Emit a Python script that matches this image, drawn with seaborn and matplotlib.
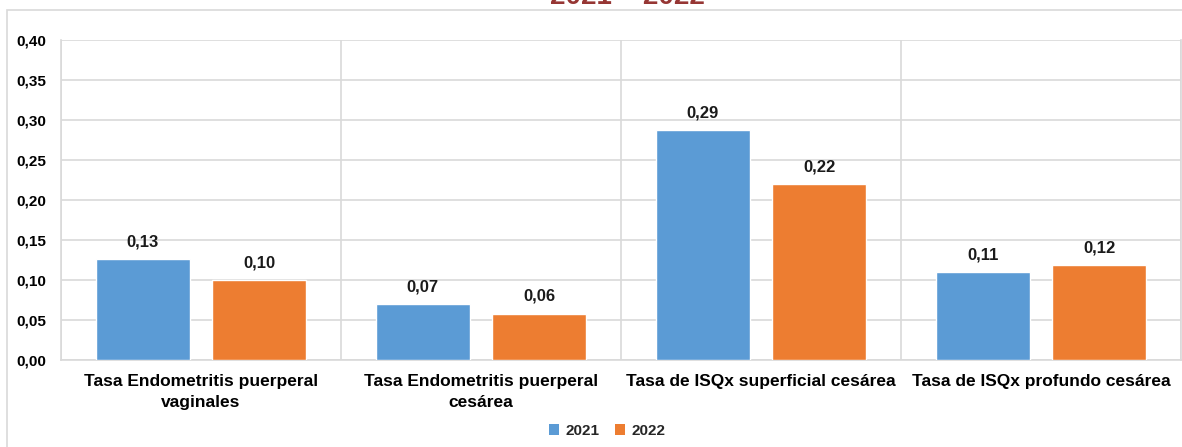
import matplotlib
matplotlib.use("Agg")
import matplotlib.pyplot as plt
from matplotlib.patches import Rectangle, Patch
import seaborn as sns
import pandas as pd

# Data
categorias = [
    "Tasa Endometritis puerperal\nvaginales",
    "Tasa Endometritis puerperal\ncesárea",
    "Tasa de ISQx superficial cesárea",
    "Tasa de ISQx profundo cesárea",
]
anios = ["2021", "2022"]
tasa_2021 = [0.126, 0.070, 0.287, 0.110]
tasa_2022 = [0.100, 0.058, 0.220, 0.119]
y_ticks = [0.00, 0.05, 0.10, 0.15, 0.20, 0.25, 0.30, 0.35, 0.40]
titulo = "2021 – 2022"

colores = ["#5B9BD5", "#ED7D31"]
gris = "#D9D9D9"

df = pd.DataFrame({
    "categoria": categorias * 2,
    "anio": [anios[0]] * 4 + [anios[1]] * 4,
    "tasa": tasa_2021 + tasa_2022,
})

sns.set_theme(style="white")
plt.rcParams["font.family"] = ["Liberation Sans", "DejaVu Sans"]

W, H = 1182, 447
fig = plt.figure(figsize=(W / 100, H / 100), dpi=100)
ax = fig.add_axes([61 / W, 1 - 360 / H, (1181 - 61) / W, (360 - 40) / H])

sns.barplot(data=df, x="categoria", y="tasa", hue="anio", palette=colores,
            width=0.83, gap=0.19, saturation=1, ax=ax, legend=False, zorder=3)

ax.set_ylim(0, 0.40)
ax.set_xlim(-0.5, len(categorias) - 0.5)
ax.set_yticks(y_ticks)
ax.set_yticklabels([f"{v:.2f}".replace(".", ",") for v in y_ticks],
                   fontsize=11, fontweight="bold", color="#000000")
ax.tick_params(axis="y", length=0, pad=10.8)
ax.tick_params(axis="x", length=0, pad=10)
for lab in ax.get_xticklabels():
    lab.set_fontsize(12.5)
    lab.set_fontweight("bold")
    lab.set_color("#000000")
    lab.set_linespacing(1.5)
ax.set_xlabel("")
ax.set_ylabel("")

# Gridlines: horizontal at ticks, vertical at category boundaries
ax.grid(axis="y", color=gris, linewidth=1.2, zorder=0)
ax.set_xticks([i - 0.5 for i in range(len(categorias) + 1)], minor=True)
ax.grid(axis="x", which="minor", color=gris, linewidth=1.2, zorder=0)
ax.tick_params(axis="x", which="minor", length=0)
for side in ["left", "right", "bottom"]:
    ax.spines[side].set_color(gris)
    ax.spines[side].set_linewidth(1.2)
ax.spines["top"].set_visible(False)

# Value labels
for cont in ax.containers:
    ax.bar_label(cont, labels=[f"{b.get_height():.2f}".replace(".", ",") for b in cont],
                 padding=7, fontsize=12, fontweight="bold", color="#1a1a1a")

# Legend
handles = [Patch(facecolor=c, edgecolor="none") for c in colores]
fig.legend(handles, anios, loc="center", bbox_to_anchor=(607 / W, 1 - 431 / H),
           ncol=2, frameon=False, handlelength=0.7, handleheight=0.7,
           handletextpad=0.4, columnspacing=1.0,
           prop={"weight": "bold", "size": 11})

# Chart frame
fig.patches.append(Rectangle((7 / W, -0.1), 1.2, 1.1 - 10 / H, transform=fig.transFigure,
                             fill=False, edgecolor=gris, linewidth=1.2, clip_on=False))

# Title, partly above the frame
fig.text(627 / W, 1 - 4 / H, titulo, ha="center", va="baseline", fontsize=20,
         fontweight="bold", color="#963634")

fig.savefig("out.png", dpi=100)
